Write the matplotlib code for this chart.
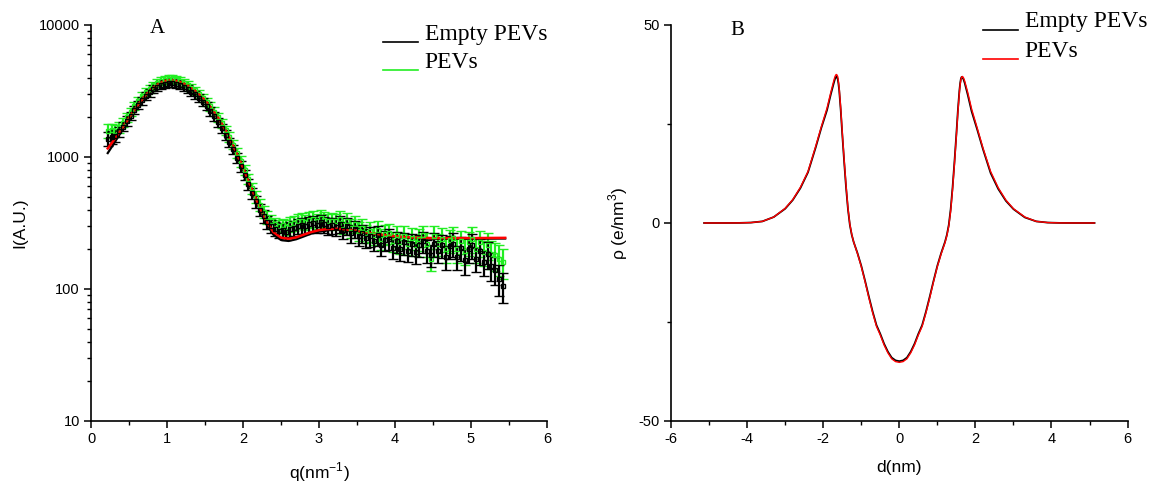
import numpy as np
import matplotlib
matplotlib.use("Agg")
import matplotlib.pyplot as plt
from matplotlib.ticker import MultipleLocator, LogLocator, NullFormatter, FixedLocator

plt.rcParams['font.family'] = ['Liberation Sans', 'DejaVu Sans']
plt.rcParams['mathtext.fontset'] = 'custom'
plt.rcParams['mathtext.rm'] = 'Liberation Sans'
plt.rcParams['axes.unicode_minus'] = False

# ---- panel A: scattering data ----
q_data = [0.22, 0.27, 0.32, 0.37, 0.42, 0.47, 0.52, 0.57, 0.62, 0.67,
          0.72, 0.77, 0.82, 0.87, 0.92, 0.97, 1.02, 1.07, 1.12, 1.17,
          1.22, 1.27, 1.32, 1.37, 1.42, 1.47, 1.52, 1.57, 1.62, 1.67,
          1.72, 1.77, 1.82, 1.87, 1.92, 1.97, 2.02, 2.07, 2.12, 2.17,
          2.22, 2.27, 2.32, 2.37, 2.42, 2.47, 2.52, 2.57, 2.62, 2.67,
          2.72, 2.77, 2.82, 2.87, 2.92, 2.97, 3.02, 3.07, 3.12, 3.17,
          3.22, 3.27, 3.32, 3.37, 3.42, 3.47, 3.52, 3.57, 3.62, 3.67,
          3.72, 3.77, 3.82, 3.87, 3.92, 3.97, 4.02, 4.07, 4.12, 4.17,
          4.22, 4.27, 4.32, 4.37, 4.42, 4.47, 4.52, 4.57, 4.62, 4.67,
          4.72, 4.77, 4.82, 4.87, 4.92, 4.97, 5.02, 5.07, 5.12, 5.17,
          5.22, 5.27, 5.32, 5.37, 5.42]

I_empty = [1380, 1420, 1450, 1560, 1700, 1880, 2060, 2260, 2470, 2680,
           2900, 3080, 3260, 3400, 3520, 3600, 3640, 3620, 3580, 3500,
           3400, 3280, 3130, 2980, 2800, 2620, 2420, 2230, 2030, 1840,
           1650, 1470, 1300, 1140, 990, 850, 730, 620, 530, 460,
           400, 355, 320, 300, 285, 275, 280, 270, 285, 290,
           300, 305, 300, 310, 315, 305, 320, 310, 300, 305,
           295, 310, 280, 300, 265, 285, 250, 265, 245, 250,
           230, 255, 215, 235, 240, 205, 230, 200, 225, 195,
           220, 190, 215, 230, 195, 180, 220, 195, 215, 175,
           210, 220, 175, 205, 165, 200, 215, 170, 195, 160,
           185, 150, 140, 120, 105]

I_pevs = [1580, 1600, 1580, 1680, 1820, 2000, 2200, 2420, 2650, 2880,
          3100, 3300, 3480, 3640, 3760, 3850, 3900, 3880, 3820, 3740,
          3630, 3500, 3350, 3190, 3010, 2820, 2620, 2420, 2210, 2000,
          1800, 1600, 1420, 1240, 1080, 930, 800, 680, 580, 500,
          435, 385, 350, 325, 310, 300, 305, 295, 310, 315,
          325, 330, 320, 335, 340, 330, 345, 335, 325, 330,
          325, 340, 305, 325, 290, 310, 275, 290, 265, 275,
          255, 280, 240, 260, 265, 230, 255, 225, 250, 220,
          245, 215, 240, 255, 220, 170, 250, 220, 240, 200,
          235, 245, 200, 230, 195, 225, 240, 200, 225, 190,
          215, 185, 180, 170, 160]

rel_err = [0.12, 0.11, 0.10, 0.09, 0.08, 0.08, 0.07, 0.07, 0.07, 0.07,
           0.07, 0.07, 0.07, 0.07, 0.07, 0.07, 0.07, 0.07, 0.07, 0.07,
           0.07, 0.07, 0.07, 0.07, 0.07, 0.07, 0.07, 0.08, 0.08, 0.08,
           0.08, 0.08, 0.08, 0.08, 0.09, 0.09, 0.09, 0.09, 0.10, 0.10,
           0.10, 0.11, 0.11, 0.12, 0.12, 0.12, 0.12, 0.13, 0.13, 0.13,
           0.13, 0.14, 0.13, 0.14, 0.14, 0.13, 0.14, 0.14, 0.14, 0.14,
           0.14, 0.15, 0.14, 0.15, 0.16, 0.15, 0.16, 0.16, 0.16, 0.17,
           0.16, 0.17, 0.18, 0.17, 0.18, 0.17, 0.18, 0.18, 0.19, 0.18,
           0.19, 0.18, 0.19, 0.18, 0.20, 0.19, 0.20, 0.19, 0.20, 0.21,
           0.20, 0.21, 0.21, 0.20, 0.22, 0.21, 0.22, 0.21, 0.22, 0.22,
           0.23, 0.24, 0.24, 0.26, 0.26]

q_fit = [0.22, 0.3, 0.4, 0.5, 0.6, 0.7, 0.8, 0.9, 1.0, 1.1, 1.2, 1.3, 1.4,
         1.5, 1.6, 1.7, 1.8, 1.9, 2.0, 2.1, 2.2, 2.3, 2.4, 2.5, 2.6, 2.7,
         2.8, 2.9, 3.0, 3.1, 3.2, 3.3, 3.4, 3.5, 3.6, 3.8, 4.0, 4.2, 4.5,
         5.0, 5.45]
fit_pevs = [1160, 1340, 1620, 1980, 2400, 2860, 3280, 3620, 3810, 3800,
            3650, 3400, 3080, 2700, 2280, 1880, 1480, 1120, 830, 600, 440,
            330, 270, 245, 240, 246, 258, 270, 279, 284, 286, 285, 281,
            276, 270, 259, 251, 246, 243, 243, 244]
fit_empty = [1070, 1260, 1560, 1940, 2360, 2810, 3220, 3560, 3740, 3740,
             3600, 3360, 3040, 2660, 2240, 1840, 1440, 1090, 800, 580, 425,
             318, 258, 235, 231, 238, 250, 263, 272, 278, 281, 280, 277,
             272, 266, 256, 248, 243, 240, 240, 241]

# ---- panel B: electron density profiles ----
d_nm = [-5.13, -4.6, -4.2, -3.9, -3.6, -3.3, -3.0, -2.8, -2.6, -2.4, -2.2,
        -2.05, -1.9, -1.8, -1.72, -1.69, -1.66, -1.64, -1.62, -1.60, -1.58,
        -1.54, -1.5, -1.45, -1.4, -1.35, -1.3, -1.25, -1.2, -1.1, -1.0,
        -0.9, -0.8, -0.7, -0.6, -0.5, -0.4, -0.3, -0.2, -0.1, 0.0,
        0.1, 0.2, 0.3, 0.4, 0.5, 0.6, 0.7, 0.8, 0.9, 1.0, 1.1, 1.2, 1.25,
        1.3, 1.35, 1.4, 1.45, 1.5, 1.54, 1.58, 1.60, 1.62, 1.64, 1.66, 1.69,
        1.72, 1.8, 1.9, 2.05, 2.2, 2.4, 2.6, 2.8, 3.0, 3.3, 3.6, 3.9, 4.2,
        4.6, 5.13]

rho_empty = [0.0, 0.0, 0.02, 0.1, 0.4, 1.5, 3.6, 5.8, 8.8, 12.8, 19.0,
             24.0, 28.5, 32.5, 35.4, 36.4, 36.9, 36.9, 36.4, 35.2, 33.5,
             28.5, 22.5, 15.5, 9.0, 3.5, -0.5, -3.0, -4.8, -7.6, -10.8,
             -14.6, -18.6, -22.4, -25.8, -28.0, -30.5, -32.5, -34.0, -34.7,
             -34.9,
             -34.7, -34.0, -32.5, -30.5, -28.0, -25.8, -22.4, -18.6, -14.6,
             -10.8, -7.6, -4.8, -3.0, -0.5, 3.5, 9.0, 15.5, 22.5, 28.5,
             33.5, 35.3, 36.5, 36.9, 36.8, 36.2, 35.3, 32.3, 28.2, 23.5,
             18.6, 12.6, 8.6, 5.6, 3.5, 1.4, 0.4, 0.1, 0.02, 0.0, 0.0]

rho_pevs = [0.0, 0.0, 0.02, 0.1, 0.4, 1.5, 3.7, 5.9, 9.0, 13.0, 19.3,
            24.3, 29.0, 33.0, 36.0, 37.0, 37.5, 37.4, 37.0, 35.7, 34.0,
            29.0, 23.0, 16.0, 9.5, 3.8, -0.3, -2.9, -4.8, -7.7, -11.0,
            -14.8, -18.9, -22.7, -26.1, -28.3, -30.8, -32.8, -34.3, -35.0,
            -35.2,
            -35.0, -34.3, -32.8, -30.8, -28.3, -26.1, -22.7, -18.9, -14.8,
            -11.0, -7.8, -5.0, -3.2, -0.8, 3.0, 8.5, 15.0, 22.0, 28.0,
            33.0, 35.0, 36.3, 36.9, 37.0, 36.6, 35.8, 32.9, 28.8, 23.9,
            18.9, 13.0, 8.9, 5.8, 3.6, 1.5, 0.4, 0.1, 0.02, 0.0, 0.0]

GREEN = '#22ee22'
SERIF = ['Liberation Serif', 'DejaVu Serif']


def style_axes(ax):
    for s in ('top', 'right'):
        ax.spines[s].set_visible(False)
    for s in ('left', 'bottom'):
        ax.spines[s].set_linewidth(1.2)
    ax.tick_params(which='major', direction='out', length=5, width=1.1,
                   labelsize=10.5, pad=3)
    ax.tick_params(which='minor', direction='out', length=3, width=1.0)


def fake_legend(ax, x0, x1, xt, rows):
    # origin style legend: short line sitting at the text baseline
    for (yl, yt, col, lab) in rows:
        ax.plot([x0, x1], [yl, yl], color=col, lw=1.2,
                transform=ax.transAxes, clip_on=False)
        ax.text(xt, yt, lab, transform=ax.transAxes, va='baseline',
                ha='left', fontsize=17, family=SERIF)


fig = plt.figure(figsize=(11.52, 4.84), dpi=100)

# ---------------- A ----------------
axA = fig.add_axes([0.0790, 0.1302, 0.3958, 0.8182])
q = np.array(q_data)
Ie = np.array(I_empty)
Ip = np.array(I_pevs)
err = np.array(rel_err)

axA.errorbar(q, Ip, yerr=Ip * err, fmt='s', ms=3.5, mfc='none', mec=GREEN,
             ecolor=GREEN, elinewidth=1.6, capsize=3.5, capthick=1.5, mew=1.0)
axA.errorbar(q, Ie, yerr=Ie * err, fmt='s', ms=3.5, mfc='none', mec='black',
             ecolor='black', elinewidth=1.6, capsize=3.5, capthick=1.5, mew=1.0)
axA.plot(q_fit, fit_empty, color='black', lw=1.6)
axA.plot(q_fit, fit_pevs, color='red', lw=1.8)

axA.set_yscale('log')
axA.set_xlim(0, 6)
axA.set_ylim(10, 10000)
axA.xaxis.set_major_locator(MultipleLocator(1))
axA.xaxis.set_minor_locator(MultipleLocator(0.5))
axA.yaxis.set_major_locator(FixedLocator([10, 100, 1000, 10000]))
axA.yaxis.set_minor_locator(LogLocator(base=10, subs=np.arange(2, 10)))
axA.yaxis.set_minor_formatter(NullFormatter())
axA.set_yticklabels(['10', '100', '1000', '10000'])
style_axes(axA)
axA.set_xlabel('q(nm$^{-1}$)', fontsize=12.5, labelpad=10)
axA.set_ylabel('I(A.U.)', fontsize=12.5, labelpad=8)
axA.text(0.146, 0.99, 'A', transform=axA.transAxes, ha='center', va='center',
         fontsize=15, family=SERIF)
fake_legend(axA, 0.640, 0.717, 0.732,
            [(0.958, 0.962, 'black', 'Empty PEVs'),
             (0.886, 0.891, GREEN, 'PEVs')])

# ---------------- B ----------------
axB = fig.add_axes([0.5825, 0.1302, 0.3963, 0.8182])
axB.plot(d_nm, rho_empty, color='black', lw=1.3)
axB.plot(d_nm, rho_pevs, color='red', lw=1.0)
axB.set_xlim(-6, 6)
axB.set_ylim(-50, 50)
axB.xaxis.set_major_locator(MultipleLocator(2))
axB.xaxis.set_minor_locator(MultipleLocator(1))
axB.yaxis.set_major_locator(MultipleLocator(50))
axB.yaxis.set_minor_locator(MultipleLocator(25))
style_axes(axB)
axB.set_xlabel('d(nm)', fontsize=12.5, labelpad=10)
axB.set_ylabel('\u03c1 (e/nm$^3$)', fontsize=12.5, labelpad=6)
axB.text(0.145, 0.985, 'B', transform=axB.transAxes, ha='center', va='center',
         fontsize=15, family=SERIF)
fake_legend(axB, 0.683, 0.760, 0.775,
            [(0.987, 0.995, 'black', 'Empty PEVs'),
             (0.914, 0.919, 'red', 'PEVs')])

fig.savefig('out.png', dpi=100)
